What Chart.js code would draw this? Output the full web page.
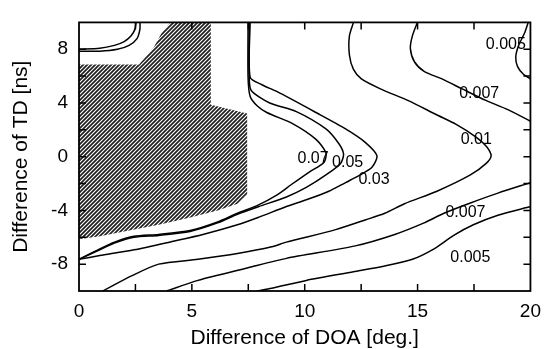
<!DOCTYPE html>
<html>
<head>
<meta charset="utf-8">
<script src="https://cdn.jsdelivr.net/npm/chart.js@4.4.0/dist/chart.umd.min.js"></script>
<style>
  html, body { margin: 0; padding: 0; background: #fff; }
  canvas { display: block; }
</style>
</head>
<body>
<canvas id="contourChart" width="550" height="349"></canvas>
<script>
// contour lines as [doa, td] pairs
const c070 = [[7.49,10],[7.49,5.93],[7.58,4.5],[7.89,3.79],[8.32,3.29],[9.5,2.43],[10.5,1.29],[10.94,0.29],[10.85,-0.43],[10.2,-1.14],[9.41,-2.07],[8.76,-2.86],[7.89,-3.64],[7.02,-4.21],[6.14,-4.86],[4.92,-5.5],[3.53,-5.79],[2.44,-5.93],[1.57,-6.36],[0.92,-6.86],[0,-7.64]];
const c050 = [[7.54,10],[7.54,5.93],[7.63,4.93],[8.45,4.0],[9.63,3.36],[10.94,2.07],[11.5,1.0],[11.72,0.21],[11.59,-0.5],[10.94,-1.36],[10.07,-2.29],[9.19,-3.0],[7.97,-3.71],[7.02,-4.29],[6.14,-4.93],[4.92,-5.57],[3.53,-5.86],[2.44,-6.0],[1.57,-6.43],[0.92,-6.93],[0,-7.64]];
const c030 = [[7.58,10],[7.58,5.93],[8.1,5.36],[8.76,4.86],[10.5,3.29],[11.81,2.07],[12.68,1.07],[13.2,0.07],[12.98,-0.79],[12.46,-1.36],[11.81,-1.93],[11.07,-2.57],[10.07,-3.21],[9.19,-3.71],[7.97,-4.5],[7.02,-5.07],[5.49,-5.79],[4.18,-6.29],[2.44,-6.93],[0.92,-7.36],[0,-7.64]];
const c010 = [[12.16,10],[11.98,9.0],[11.98,7.57],[12.16,6.5],[12.51,5.79],[13.33,5.07],[14.64,4.14],[15.82,3.14],[16.69,2.43],[17.56,1.5],[18.08,0.71],[18.26,0.07],[18.04,-0.5],[17.34,-1.36],[15.86,-2.57],[14.42,-3.5],[13.55,-4.21],[12.68,-4.71],[11.37,-5.43],[9.19,-6.36],[8.54,-6.71],[7.02,-7.21],[5.27,-7.64],[3.53,-8.0],[2.35,-8.86],[1.05,-10]];
const c007Upper = [[14.99,10],[14.77,9.0],[14.68,8.07],[14.86,7.07],[15.29,6.36],[16.08,5.79],[16.95,5.07],[18.0,4.21],[19.0,3.5],[20,2.64]];
const c007Lower = [[3.88,-10],[5.27,-9.21],[7.45,-8.29],[9.19,-7.57],[12.24,-6.64],[13.99,-5.79],[15.29,-4.93],[16.17,-4.21],[17.25,-3.5],[18.56,-2.71],[20,-1.93]];
const c005Upper = [[19.9,10],[19.74,9.21],[19.48,8.29],[19.35,7.43],[19.43,6.71],[19.69,6.14],[20,5.79]];
const c005Lower = [[7.89,-10],[8.54,-9.79],[10.07,-9.21],[12.16,-8.57],[13.55,-8.14],[14.77,-7.64],[15.73,-6.86],[16.6,-5.86],[17.47,-5.07],[18.56,-4.36],[20,-3.71]];
const cornerA = [[0,8.0],[0.92,8.07],[1.57,8.29],[2.0,8.57],[2.31,9.0],[2.48,9.5],[2.53,10]];
const cornerB = [[0,7.86],[0.92,7.86],[1.7,8.0],[2.22,8.29],[2.57,8.79],[2.7,9.5],[2.7,10]];

// hatched area
const hatchArea = [[0,6.86],[2.66,6.86],[3.31,8.14],[3.66,9.21],[4.05,10],[5.84,10],[5.84,3.86],[7.45,3.21],[7.45,-2.79],[7.02,-3.5],[6.14,-4.0],[4.84,-4.57],[3.53,-5.07],[2.22,-5.5],[0.92,-5.93],[0,-6.14]];

// contour level labels
const levelText = ['0.005', '0.007', '0.01', '0.07', '0.05', '0.03', '0.007', '0.005'];
const levelX = [18.91, 17.73, 17.6, 10.37, 11.9, 13.07, 17.12, 17.34];
const levelY = [8.36, 4.71, 1.29, -0.14, -0.43, -1.71, -4.14, -7.5];

// tick labels
const xTickLabels = [0, 5, 10, 15, 20];
const yTickLabels = [-8, -4, 0, 4, 8];

const FONT = "'Liberation Sans', Arial, Helvetica, sans-serif";

function makeHatch() {
    const s = 4;
    const c = document.createElement('canvas');
    c.width = s; c.height = s;
    const g = c.getContext('2d');
    g.strokeStyle = '#1e1e1e';
    g.lineWidth = 1.7;
    g.beginPath();
    g.moveTo(0, s); g.lineTo(s, 0);
    g.moveTo(-1, 1); g.lineTo(1, -1);
    g.moveTo(s - 1, s + 1); g.lineTo(s + 1, s - 1);
    g.stroke();
    return g.createPattern(c, 'repeat');
}

function contour(points) {
    return {
        data: points,
        showLine: true,
        borderColor: '#000',
        borderWidth: 1.5,
        pointRadius: 0,
        tension: 0.25,
        fill: false,
        order: 0
    };
}

const datasets = [c070, c050, c030, c010, c007Upper, c007Lower, c005Upper, c005Lower, cornerA, cornerB].map(contour);
datasets.push({
    data: hatchArea,
    showLine: true,
    borderWidth: 0,
    borderColor: 'rgba(0,0,0,0)',
    backgroundColor: makeHatch(),
    pointRadius: 0,
    tension: 0,
    fill: 'shape',
    order: 5
});

// frame, inward ticks and level labels
const framePlugin = {
    id: 'frame',
    beforeDraw(chart) {
        const ctx = chart.ctx;
        ctx.save();
        ctx.fillStyle = '#fff';
        ctx.fillRect(0, 0, chart.width, chart.height);
        ctx.restore();
    },
    afterDraw(chart) {
        const { ctx, chartArea: { left, right, top, bottom }, scales: { x, y } } = chart;
        ctx.save();
        ctx.fillStyle = '#000';
        ctx.font = '16px ' + FONT;
        ctx.textAlign = 'center';
        ctx.textBaseline = 'middle';
        levelText.forEach((t, i) => {
            ctx.fillText(t, x.getPixelForValue(levelX[i]), y.getPixelForValue(levelY[i]));
        });

        ctx.strokeStyle = '#000';
        ctx.lineWidth = 1.5;
        const tl = 7;
        ctx.beginPath();
        x.ticks.forEach(t => {
            const px = x.getPixelForValue(t.value);
            if (px <= left + 1 || px >= right - 1) return;
            ctx.moveTo(px, bottom); ctx.lineTo(px, bottom - tl);
            ctx.moveTo(px, top); ctx.lineTo(px, top + tl);
        });
        y.ticks.forEach(t => {
            const py = y.getPixelForValue(t.value);
            if (py <= top + 1 || py >= bottom - 1) return;
            ctx.moveTo(left, py); ctx.lineTo(left + tl, py);
            ctx.moveTo(right, py); ctx.lineTo(right - tl, py);
        });
        ctx.stroke();

        ctx.lineWidth = 1.8;
        ctx.strokeRect(left, top, right - left, bottom - top);
        ctx.restore();
    }
};

new Chart(document.getElementById('contourChart'), {
    type: 'scatter',
    data: { datasets },
    options: {
        responsive: false,
        animation: false,
        layout: { padding: { top: 11, right: 12, left: 0, bottom: 0 } },
        plugins: { legend: { display: false }, tooltip: { enabled: false } },
        scales: {
            x: {
                type: 'linear',
                min: 0,
                max: 20,
                grid: { display: false, drawTicks: false },
                border: { display: false },
                ticks: {
                    stepSize: 2.5,
                    autoSkip: false,
                    maxRotation: 0,
                    padding: 9,
                    color: '#000',
                    font: { family: FONT, size: 19 },
                    callback: v => xTickLabels.includes(v) ? String(v) : ''
                },
                title: {
                    display: true,
                    text: 'Difference of DOA [deg.]',
                    color: '#000',
                    font: { family: FONT, size: 21, lineHeight: 1 },
                    padding: { top: 0, bottom: 0 }
                },
                afterFit: s => { s.height = 58; }
            },
            y: {
                type: 'linear',
                min: -10,
                max: 10,
                grid: { display: false, drawTicks: false },
                border: { display: false },
                ticks: {
                    stepSize: 2,
                    autoSkip: false,
                    padding: 11,
                    color: '#000',
                    font: { family: FONT, size: 19 },
                    callback: v => yTickLabels.includes(v) ? String(v) : ''
                },
                title: {
                    display: true,
                    text: 'Difference of TD [ns]',
                    color: '#000',
                    font: { family: FONT, size: 21, lineHeight: 1 },
                    padding: { top: 11, bottom: 0 }
                },
                afterFit: s => { s.width = 79; }
            }
        }
    },
    plugins: [framePlugin]
});
</script>
</body>
</html>
